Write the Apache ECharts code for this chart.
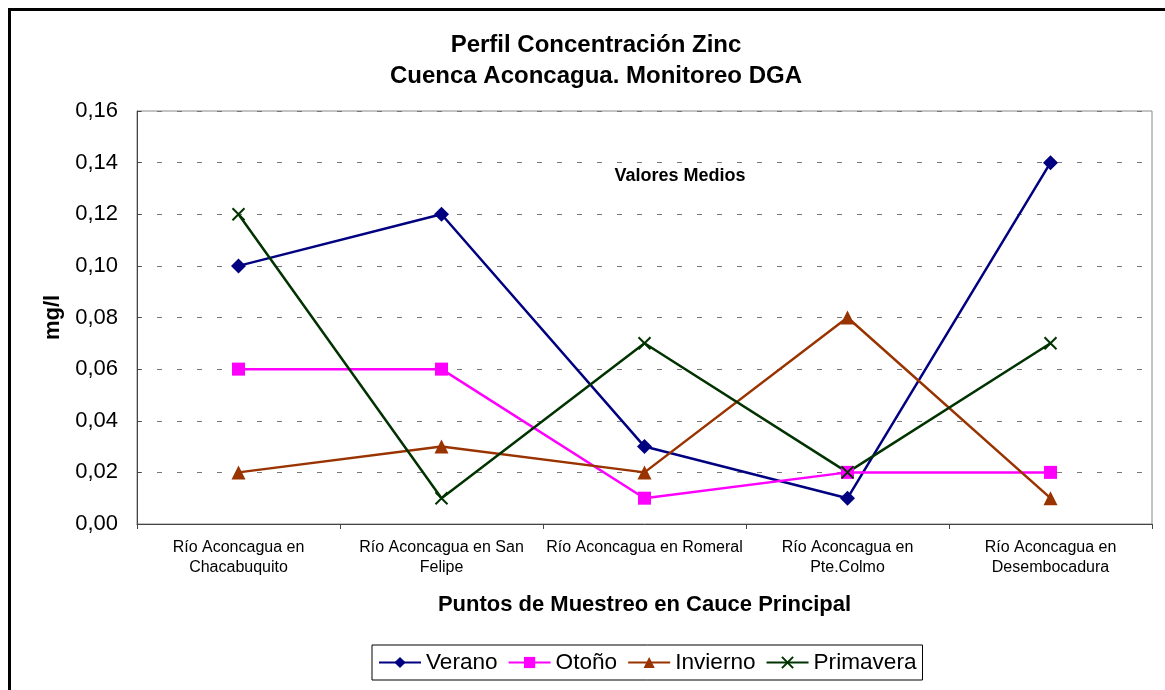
<!DOCTYPE html>
<html>
<head>
<meta charset="utf-8">
<script src="https://cdn.jsdelivr.net/npm/echarts@6/dist/echarts.min.js"></script>
<style>
html,body{margin:0;padding:0;background:#fff;}
#chart{width:1165px;height:690px;}
</style>
</head>
<body>
<div id="chart"></div>
<script>
// puntos de muestreo
var categorias=['Río Aconcagua en\nChacabuquito','Río Aconcagua en San\nFelipe','Río Aconcagua en Romeral','Río Aconcagua en\nPte.Colmo','Río Aconcagua en\nDesembocadura'];
var verano=[0.10,0.12,0.03,0.01,0.14];
var otono=[0.06,0.06,0.01,0.02,0.02];
var invierno=[0.02,0.03,0.02,0.08,0.01];
var primavera=[0.12,0.01,0.07,0.02,0.07];

var mychart=echarts.init(document.getElementById('chart'));
var fuente='Arial, "Liberation Sans", sans-serif';
var cruz='path://M0,0L10,10M10,0L0,10';

var option={
    backgroundColor:'#fff',
    textStyle:{fontFamily:fuente},
    animation:false,
    title:{
        text:'Perfil Concentración Zinc\nCuenca Aconcagua. Monitoreo DGA',
        left:591,
        top:25,
        textAlign:'center',
        textStyle:{fontSize:24,fontWeight:'bold',color:'#000',lineHeight:31,fontFamily:fuente}
    },
    graphic:[
        {type:'rect',shape:{x:9.5,y:9.5,width:1170,height:700},style:{fill:'none',stroke:'#000',lineWidth:3},silent:true},
        {type:'text',x:680,y:176,style:{text:'Valores Medios',font:'bold 18px '+fuente,fill:'#000',align:'center',verticalAlign:'middle'}}
    ],
    legend:{
        data:['Verano','Otoño','Invierno','Primavera'],
        bottom:10,
        left:372,
        itemWidth:42,
        itemHeight:14,
        itemGap:10,
        padding:[6,6,6,6],
        borderColor:'#000',
        borderWidth:1,
        textStyle:{fontSize:22.6,color:'#000',fontFamily:fuente}
    },
    grid:{left:137,top:111,right:13,bottom:166,show:true,borderColor:'#888',borderWidth:1},
    xAxis:{
        type:'category',
        data:categorias,
        boundaryGap:true,
        axisLine:{lineStyle:{color:'#444',width:1}},
        axisTick:{show:true,length:5,lineStyle:{color:'#444'}},
        axisLabel:{fontSize:16,color:'#000',lineHeight:20,margin:14,interval:0},
        name:'Puntos de Muestreo en Cauce Principal',
        nameLocation:'middle',
        nameGap:70,
        nameTextStyle:{fontSize:22,fontWeight:'bold',color:'#000'}
    },
    yAxis:{
        type:'value',
        min:0,
        max:0.16,
        interval:0.02,
        axisLine:{show:true,lineStyle:{color:'#444',width:1}},
        axisTick:{show:true,inside:true,length:4,lineStyle:{color:'#444'}},
        axisLabel:{fontSize:22,color:'#000',margin:19,formatter:function(v){return v.toFixed(2).replace('.',',');}},
        splitLine:{show:true,lineStyle:{color:'#777',type:[5,15],width:1}},
        name:'mg/l',
        nameLocation:'middle',
        nameGap:72,
        nameTextStyle:{fontSize:22,fontWeight:'bold',color:'#000'}
    },
    series:[
        {
            name:'Verano',type:'line',data:verano,
            symbol:'diamond',symbolSize:15,
            lineStyle:{color:'#000080',width:2.5},
            itemStyle:{color:'#000080'}
        },
        {
            name:'Otoño',type:'line',data:otono,
            symbol:'rect',symbolSize:13,
            lineStyle:{color:'#FF00FF',width:2.5},
            itemStyle:{color:'#FF00FF'}
        },
        {
            name:'Invierno',type:'line',data:invierno,
            symbol:'triangle',symbolSize:14,
            lineStyle:{color:'#993300',width:2.5},
            itemStyle:{color:'#993300'}
        },
        {
            name:'Primavera',type:'line',data:primavera,
            symbol:cruz,symbolSize:12,
            lineStyle:{color:'#003300',width:2.5},
            itemStyle:{color:'#003300',borderColor:'#003300',borderWidth:2}
        }
    ]
};

mychart.setOption(option);
</script>
</body>
</html>
